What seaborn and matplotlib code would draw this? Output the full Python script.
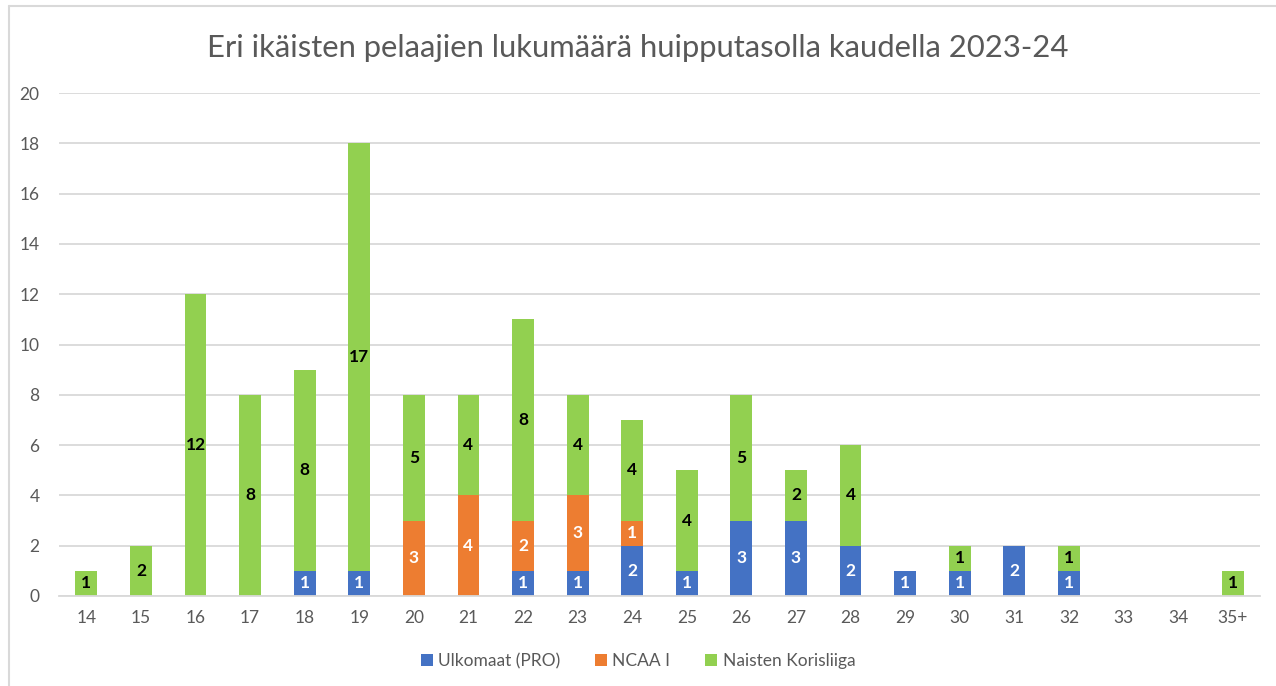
import matplotlib
matplotlib.use("Agg")
import matplotlib.pyplot as plt
from matplotlib.lines import Line2D
from matplotlib.patches import Patch
import seaborn as sns
import pandas as pd

ages = ["14", "15", "16", "17", "18", "19", "20", "21", "22", "23", "24",
        "25", "26", "27", "28", "29", "30", "31", "32", "33", "34", "35+"]
ulkomaat = [0, 0, 0, 0, 1, 1, 0, 0, 1, 1, 2, 1, 3, 3, 2, 1, 1, 2, 1, 0, 0, 0]
ncaa = [0, 0, 0, 0, 0, 0, 3, 4, 2, 3, 1, 0, 0, 0, 0, 0, 0, 0, 0, 0, 0, 0]
korisliiga = [1, 2, 12, 8, 8, 17, 5, 4, 8, 4, 4, 4, 5, 2, 4, 0, 1, 0, 1, 0, 0, 1]

series_names = ["Ulkomaat (PRO)", "NCAA I", "Naisten Korisliiga"]
series_values = [ulkomaat, ncaa, korisliiga]
colors = ["#4472C4", "#ED7D31", "#92D050"]
label_colors = ["white", "white", "black"]

sns.set_theme(style="white")
plt.rcParams["font.family"] = ["Lato", "DejaVu Sans"]

fig = plt.figure(figsize=(12.76, 6.86), dpi=100)
ax = fig.add_axes([59 / 1276, 90 / 686, (1260 - 59) / 1276, (596 - 93) / 686])

bottoms = [0] * len(ages)
for name, vals, col, lcol in zip(series_names, series_values, colors, label_colors):
    df = pd.DataFrame({"age": ages, "value": vals})
    sns.barplot(data=df, x="age", y="value", order=ages, color=col,
                width=0.40, bottom=bottoms, saturation=1, ax=ax,
                linewidth=0, errorbar=None)
    for i, (v, b) in enumerate(zip(vals, bottoms)):
        if v > 0:
            ax.text(i, b + v / 2, str(v), ha="center", va="center",
                    color=lcol, fontsize=12.5, fontweight="bold")
    bottoms = [b + v for b, v in zip(bottoms, vals)]

ax.set_xlim(-0.5, len(ages) - 0.5)
ax.set_ylim(0, 20)
ax.set_yticks(range(0, 21, 2))
ax.yaxis.grid(True, color="#D9D9D9", linewidth=1.3)
ax.set_axisbelow(True)
for s in ["top", "right", "left"]:
    ax.spines[s].set_visible(False)
ax.spines["bottom"].set_color("#D9D9D9")
ax.spines["bottom"].set_linewidth(1.3)
ax.tick_params(axis="both", length=0, labelsize=12.5, colors="#595959")
ax.tick_params(axis="y", pad=14)
ax.tick_params(axis="x", pad=10)
ax.set_xlabel("")
ax.set_ylabel("")

fig.text(0.5, 1 - 48 / 686, "Eri ikäisten pelaajien lukumäärä huipputasolla kaudella 2023-24",
         ha="center", va="center", fontsize=22.3, color="#595959")

handles = [Patch(facecolor=c, edgecolor="none") for c in colors]
fig.legend(handles, series_names, loc="center", bbox_to_anchor=(0.5, 1 - 661 / 686),
           ncol=3, frameon=False, fontsize=12.5, handlelength=0.7, handleheight=0.7,
           columnspacing=2.0, handletextpad=0.3, labelcolor="#595959")

# chart frame (top and left edges)
fig.add_artist(Line2D([8.5 / 1276, 8.5 / 1276], [0, 1 - 5.5 / 686],
                      transform=fig.transFigure, color="#D9D9D9", linewidth=1.5))
fig.add_artist(Line2D([8.5 / 1276, 1], [1 - 5.5 / 686, 1 - 5.5 / 686],
                      transform=fig.transFigure, color="#D9D9D9", linewidth=1.5))

fig.savefig("out.png", dpi=100, facecolor="white")
